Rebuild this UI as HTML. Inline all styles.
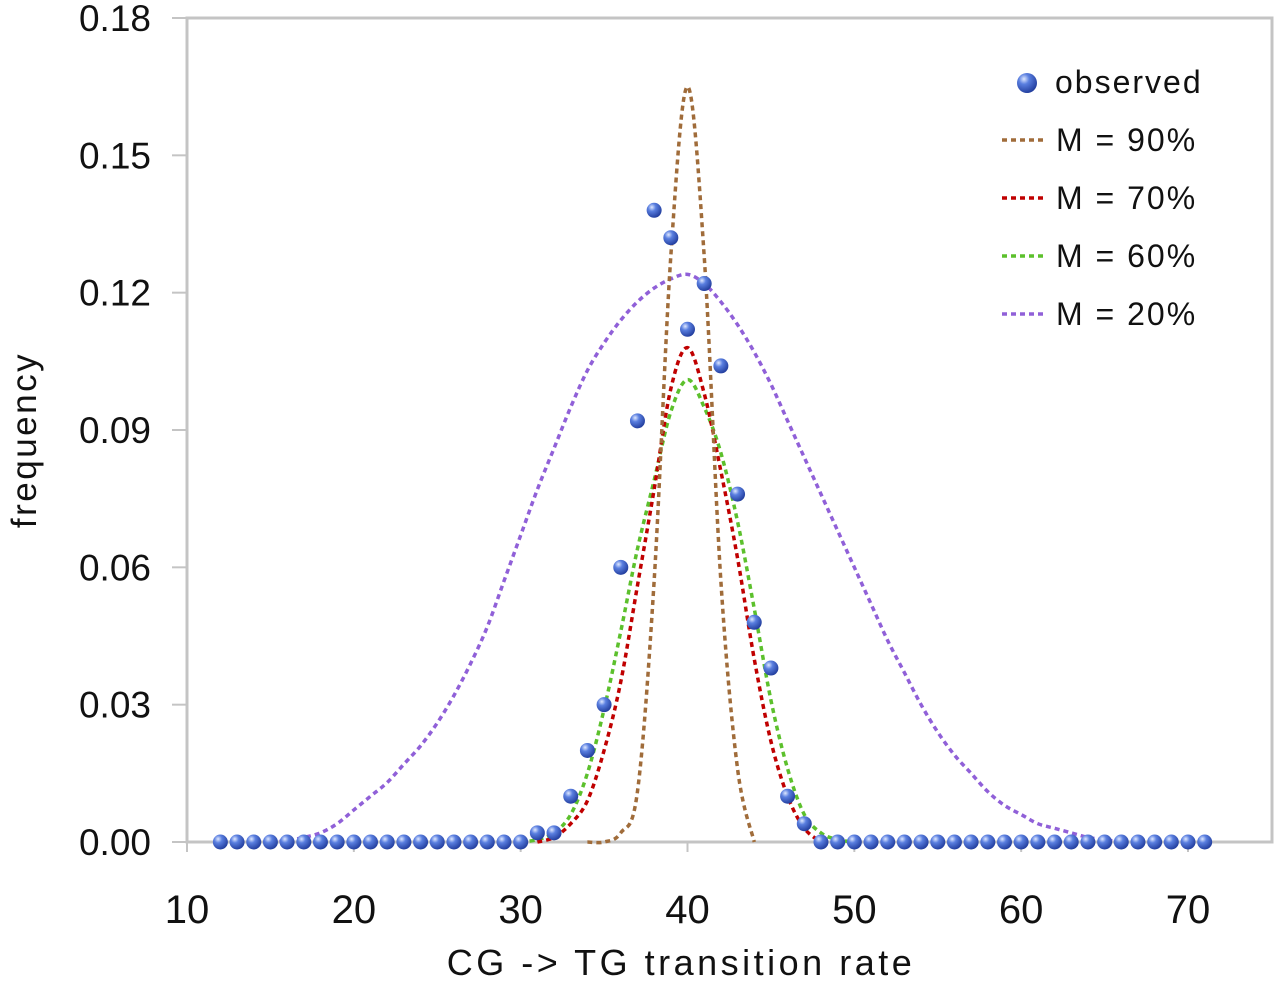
<!DOCTYPE html>
<html><head><meta charset="utf-8"><style>
body{margin:0;background:#fff;}
svg text{font-family:"Liberation Sans",sans-serif;fill:#111;}
</style></head><body>
<svg id="chart" width="1280" height="981" xmlns="http://www.w3.org/2000/svg">
<defs><radialGradient id="ball" cx="0.35" cy="0.3" r="0.75"><stop offset="0" stop-color="#dfe8ff"/><stop offset="0.35" stop-color="#5a7fe0"/><stop offset="1" stop-color="#1f3a9a"/></radialGradient></defs>
<rect x="187" y="18" width="1085" height="824" fill="none" stroke="#c4c4c4" stroke-width="3"/>
<g id="axes"></g><g id="series"></g><g id="points"></g>
<text x="681" y="975" font-size="36" text-anchor="middle" letter-spacing="3.5">CG -&gt; TG transition rate</text>
<text transform="translate(36,440) rotate(-90)" font-size="35" text-anchor="middle" letter-spacing="2.5">frequency</text>
<g>
<circle cx="1027" cy="83" r="10" fill="url(#ball)"/>
<text x="1055" y="93" font-size="32" letter-spacing="2">observed</text>
<line x1="1002" y1="140" x2="1045" y2="140" stroke="#a06c3a" stroke-width="3.5" stroke-dasharray="5,4"/>
<text x="1056" y="151" font-size="32" letter-spacing="2">M = 90%</text>
<line x1="1002" y1="198" x2="1045" y2="198" stroke="#c00000" stroke-width="3.5" stroke-dasharray="5,4"/>
<text x="1056" y="209" font-size="32" letter-spacing="2">M = 70%</text>
<line x1="1002" y1="256" x2="1045" y2="256" stroke="#5cc02c" stroke-width="3.5" stroke-dasharray="5,4"/>
<text x="1056" y="267" font-size="32" letter-spacing="2">M = 60%</text>
<line x1="1002" y1="314" x2="1045" y2="314" stroke="#9060d8" stroke-width="3.5" stroke-dasharray="5,4"/>
<text x="1056" y="325" font-size="32" letter-spacing="2">M = 20%</text>
</g>
</svg>
<script>
const xTicks=[10,20,30,40,50,60,70];
const yTicks=[0,0.03,0.06,0.09,0.12,0.15,0.18];
const obsX=[];for(let i=12;i<=71;i++)obsX.push(i);
const obsVals={31:0.002,32:0.002,33:0.01,34:0.02,35:0.03,36:0.06,37:0.092,38:0.138,39:0.132,40:0.112,41:0.122,42:0.104,43:0.076,44:0.048,45:0.038,46:0.01,47:0.004};
const m90Start=34;
const m90=[0,0,0.002,0.011,0.057,0.128,0.165,0.128,0.057,0.016,0];
const m70Start=31;
const m70=[0,0.001,0.004,0.009,0.020,0.035,0.056,0.077,0.099,0.108,0.098,0.081,0.062,0.040,0.022,0.010,0.003,0];
const m60Start=30;
const m60=[0,0.0005,0.002,0.006,0.015,0.029,0.046,0.064,0.079,0.094,0.101,0.095,0.085,0.070,0.051,0.031,0.016,0.006,0.002,0.0005,0];
const m20Start=15;
const m20=[0,0.0003,0.001,0.002,0.004,0.007,0.010,0.013,0.017,0.021,0.026,0.032,0.039,0.047,0.057,0.067,0.077,0.086,0.095,0.103,0.109,0.114,0.118,0.121,0.123,0.124,0.122,0.118,0.113,0.107,0.100,0.092,0.084,0.076,0.068,0.060,0.052,0.044,0.037,0.030,0.024,0.019,0.015,0.011,0.008,0.006,0.004,0.003,0.002,0.001,0.0005,0];
const NS="http://www.w3.org/2000/svg";
const X=v=>187+(v-10)*(1001/60);
const Y=v=>842-v*(824/0.18);
function mk(t,a,p){const e=document.createElementNS(NS,t);for(const k in a)e.setAttribute(k,a[k]);p.appendChild(e);return e;}
const axes=document.getElementById('axes');
xTicks.forEach(t=>{
 const l=mk('line',{x1:X(t),x2:X(t),y1:842,y2:852,stroke:'#c4c4c4','stroke-width':2},axes);
 
 
 const tx=mk('text',{x:X(t),y:923,'font-size':40,'text-anchor':'middle'},axes);tx.textContent=t;
 
 
});
yTicks.forEach(t=>{
 const l=mk('line',{x1:172,x2:187,y1:Y(t),y2:Y(t),stroke:'#c4c4c4','stroke-width':2},axes);
 
 
 const tx=mk('text',{x:151,y:Y(t)+13,'font-size':37,'text-anchor':'end'},axes);tx.textContent=t.toFixed(2);
 
 
});
function smooth(pts){let d='M'+pts[0][0]+','+pts[0][1];
 for(let i=0;i<pts.length-1;i++){const p0=pts[i-1]||pts[i],p1=pts[i],p2=pts[i+1],p3=pts[i+2]||p2;
  d+=' C'+(p1[0]+(p2[0]-p0[0])/6)+','+(p1[1]+(p2[1]-p0[1])/6)+' '+(p2[0]-(p3[0]-p1[0])/6)+','+(p2[1]-(p3[1]-p1[1])/6)+' '+p2[0]+','+p2[1];}
 return d;}
const ser=document.getElementById('series');
[[m20,m20Start,'#9060d8','curve-m20'],[m60,m60Start,'#5cc02c','curve-m60'],[m70,m70Start,'#c00000','curve-m70'],[m90,m90Start,'#a06c3a','curve-m90']].forEach(s=>{
 const pts=s[0].map((v,i)=>[X(s[1]+i),Y(v)]);
 const p=mk('path',{d:smooth(pts),fill:'none',stroke:s[2],'stroke-width':3.5,'stroke-dasharray':'5,4'},ser);
 
 
});
const pg=document.getElementById('points');
obsX.forEach(x=>{
 const c=mk('circle',{cx:X(x),cy:Y(obsVals[x]||0),r:7.5,fill:'url(#ball)'},pg);
 
 
});
</script>
</body></html>
